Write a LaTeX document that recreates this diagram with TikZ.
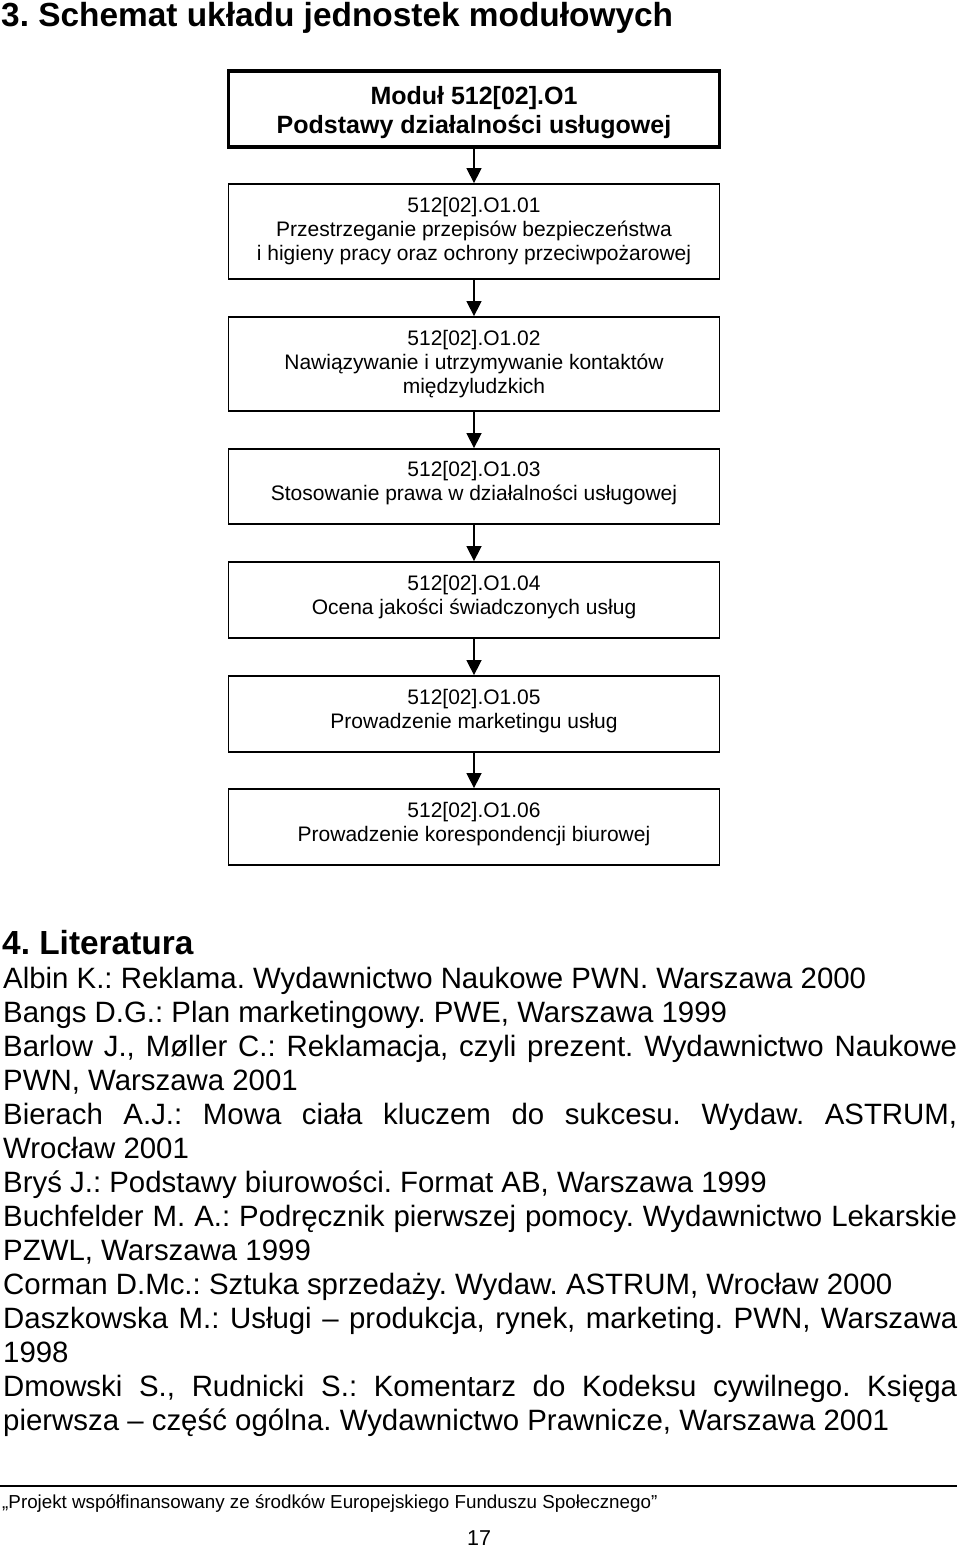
\documentclass[tikz,border=0pt]{standalone}
\usepackage{fontspec}
\setmainfont{Liberation Sans}
\usetikzlibrary{arrows.meta}
\frenchspacing
\newcommand{\fs}[2]{\fontsize{#1}{#2}\selectfont}
\newcommand{\lift}{\rule[-11pt]{0pt}{0pt}}
\newcommand{\drop}{\rule{0pt}{25.5pt}}
\tikzset{
  unitbox/.style={draw, line width=1.8pt, minimum width=491pt, align=center, inner sep=0pt, font=\fs{21}{24}},
  modbox/.style={draw, line width=3.4pt, minimum width=491pt, minimum height=76pt, align=center, inner sep=0pt, font=\bfseries\fs{25}{29}},
  flow/.style={line width=1.5pt, -{Triangle[length=15pt,width=15pt]}},
  bib/.style={anchor=base west, inner sep=0pt, font=\fs{29.4}{34}},
  hdr/.style={anchor=base west, inner sep=0pt, font=\bfseries\fs{33.4}{38}}
}
\begin{document}
\begin{tikzpicture}[x=1pt,y=-1pt]
\useasboundingbox[fill=white] (0,0) rectangle (960,1549);
\node[hdr] (title) at (1,27) {3. Schemat układu jednostek modułowych};
\node[modbox] (m) at (474,109) {\drop Moduł 512[02].O1\\Podstawy działalności usługowej};
\node[unitbox, minimum height=95pt] (b1) at (474,231.5) {512[02].O1.01\\Przestrzeganie przepisów bezpieczeństwa\\i higieny pracy oraz ochrony przeciwpożarowej};
\node[unitbox, minimum height=94pt] (b2) at (474,364) {512[02].O1.02\\Nawiązywanie i utrzymywanie kontaktów\\międzyludzkich};
\node[unitbox, minimum height=75pt] (b3) at (474,486.5) {512[02].O1.03\\Stosowanie prawa w działalności usługowej\lift};
\node[unitbox, minimum height=76pt] (b4) at (474,600) {512[02].O1.04\\Ocena jakości świadczonych usług\lift};
\node[unitbox, minimum height=76pt] (b5) at (474,714) {512[02].O1.05\\Prowadzenie marketingu usług\lift};
\node[unitbox, minimum height=76pt] (b6) at (474,827) {512[02].O1.06\\Prowadzenie korespondencji biurowej\lift};
\draw[flow] (m.south) -- (b1.north);
\draw[flow] (b1.south) -- (b2.north);
\draw[flow] (b2.south) -- (b3.north);
\draw[flow] (b3.south) -- (b4.north);
\draw[flow] (b4.south) -- (b5.north);
\draw[flow] (b5.south) -- (b6.north);
\node[hdr] (lit) at (2,954) {4. Literatura};
\node[bib] (l1) at (3,988) {Albin K.: Reklama. Wydawnictwo Naukowe PWN. Warszawa 2000};
\node[bib] (l2) at (3,1022) {Bangs D.G.: Plan marketingowy. PWE, Warszawa 1999};
\node[bib] (l3) at (3,1056) {\hbox to 954pt{Barlow J., Møller C.: Reklamacja, czyli prezent. Wydawnictwo Naukowe}};
\node[bib] (l4) at (3,1090) {PWN, Warszawa 2001};
\node[bib] (l5) at (3,1124) {\hbox to 954pt{Bierach A.J.: Mowa ciała kluczem do sukcesu. Wydaw. ASTRUM,}};
\node[bib] (l6) at (3,1158) {Wrocław 2001};
\node[bib] (l7) at (3,1192) {Bryś J.: Podstawy biurowości. Format AB, Warszawa 1999};
\node[bib] (l8) at (3,1226) {\hbox to 954pt{Buchfelder M. A.: Podręcznik pierwszej pomocy. Wydawnictwo Lekarskie}};
\node[bib] (l9) at (3,1260) {PZWL, Warszawa 1999};
\node[bib] (l10) at (3,1294) {Corman D.Mc.: Sztuka sprzedaży. Wydaw. ASTRUM, Wrocław 2000};
\node[bib] (l11) at (3,1328) {\hbox to 954pt{Daszkowska M.: Usługi – produkcja, rynek, marketing. PWN, Warszawa}};
\node[bib] (l12) at (3,1362) {1998};
\node[bib] (l13) at (3,1396) {\hbox to 954pt{Dmowski S., Rudnicki S.: Komentarz do Kodeksu cywilnego. Księga}};
\node[bib] (l14) at (3,1430) {pierwsza – część ogólna. Wydawnictwo Prawnicze, Warszawa 2001};
\coordinate (rl) at (0,1486);
\coordinate (rr) at (957,1486);
\draw[line width=1.8pt] (rl) -- (rr);
\node[anchor=base west, inner sep=0pt, font=\fs{18.8}{22}] (foot) at (2,1508) {„Projekt współfinansowany ze środków Europejskiego Funduszu Społecznego”};
\node[anchor=base, inner sep=0pt, font=\fs{21.5}{24}] (page) at (479,1545) {17};
\end{tikzpicture}
\end{document}
